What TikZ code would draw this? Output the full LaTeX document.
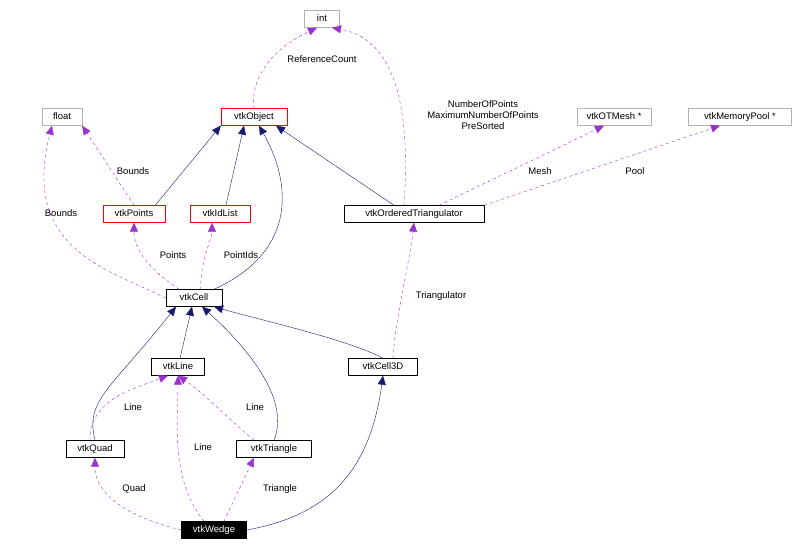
\documentclass[tikz,border=0pt]{standalone}
\usepackage{fontspec}
\setmainfont{Liberation Sans}
\usetikzlibrary{arrows.meta}
\definecolor{inh}{RGB}{25,25,112}
\definecolor{use}{RGB}{154,50,205}
\begin{document}
\begin{tikzpicture}[x=1pt,y=-1pt,
  cls/.style={draw=black,fill=white,font=\fontsize{9.5}{10}\selectfont,inner sep=2pt,minimum height=17pt,text height=7pt,text depth=1.5pt},
  red/.style={cls,draw=red},
  gray/.style={cls,draw=gray!60},
  inhe/.style={draw=inh,-{Triangle[length=9pt,width=8pt]}},
  usee/.style={draw=use,dashed,-{Triangle[length=9pt,width=8pt]}},
  lbl/.style={font=\fontsize{9.5}{11}\selectfont,align=center,inner sep=1pt}]
\useasboundingbox (0,0) rectangle (798,554);
\node[gray,minimum width=35pt] (int) at (322,19) {int};
\node[red,minimum width=66pt] (obj) at (254,117) {vtkObject};
\node[gray,minimum width=40pt] (float) at (62,117) {float};
\node[gray,minimum width=74pt] (mesh) at (614,117) {vtkOTMesh *};
\node[gray,minimum width=103pt] (pool) at (740,117) {vtkMemoryPool *};
\node[red,minimum width=62pt] (pts) at (134,214) {vtkPoints};
\node[red,minimum width=60pt] (ids) at (220,214) {vtkIdList};
\node[cls,minimum width=140pt] (ot) at (414,214) {vtkOrderedTriangulator};
\node[cls,minimum width=56pt] (cell) at (194,298) {vtkCell};
\node[cls,minimum width=53pt] (line) at (178,367) {vtkLine};
\node[cls,minimum width=69pt] (c3d) at (383,367) {vtkCell3D};
\node[cls,minimum width=58pt] (quad) at (95,449) {vtkQuad};
\node[cls,minimum width=75pt] (tri) at (274,449) {vtkTriangle};
\node[cls,fill=black,text=white,minimum width=65pt] (wedge) at (214,530) {vtkWedge};
% inheritance
\draw[inhe] (pts.north east) ++(-10,0) -- (obj.south west);
\draw[inhe] (ids.north) ++(6,0) -- ([xshift=-10pt]obj.south);
\draw[inhe] ([xshift=20pt]cell.north) .. controls (300,250) and (290,180) .. ([xshift=5pt]obj.south);
\draw[inhe] ([xshift=-20pt]ot.north) -- ([xshift=22pt]obj.south);
\draw[inhe] (line) -- (cell);
\draw[inhe] (quad.north) .. controls (85,400) and (110,390) .. ([xshift=-18pt]cell.south);
\draw[inhe] (tri.north) .. controls (290,400) and (250,350) .. ([xshift=8pt]cell.south);
\draw[inhe] (c3d.north) .. controls (350,340) and (260,320) .. ([xshift=20pt]cell.south);
\draw[inhe] (wedge.east) .. controls (330,515) and (370,470) .. (c3d.south);
% usage
\draw[usee] (obj.north) .. controls (250,80) and (270,50) .. ([xshift=-5pt]int.south);
\node[lbl] at (322,59) {ReferenceCount};
\draw[usee] ([xshift=-10pt]ot.north) .. controls (410,120) and (400,40) .. ([xshift=10pt]int.south);
\node[lbl] at (483,115) {NumberOfPoints\\MaximumNumberOfPoints\\PreSorted};
\draw[usee] (pts.north) -- (float.south east);
\node[lbl] at (133,171) {Bounds};
\draw[usee] (cell.west) .. controls (110,270) and (20,250) .. ([xshift=-10pt]float.south);
\node[lbl] at (61,213) {Bounds};
\draw[usee] ([xshift=25pt]ot.north) -- ([xshift=-10pt]mesh.south);
\node[lbl] at (540,171) {Mesh};
\draw[usee] (ot.north east) -- ([xshift=-20pt]pool.south);
\node[lbl] at (635,171) {Pool};
\draw[usee] ([xshift=-15pt]cell.north) .. controls (150,270) and (134,250) .. (pts.south);
\node[lbl] at (173,255) {Points};
\draw[usee] ([xshift=5pt]cell.north west) ++(30,0) .. controls (200,260) and (212,240) .. ([xshift=-8pt]ids.south);
\node[lbl] at (241,255) {PointIds};
\draw[usee] (c3d.north) ++(10,0) .. controls (395,320) and (410,260) .. (ot.south);
\node[lbl] at (441,296) {Triangulator};
\draw[usee] (quad.north) ++(-5,0) .. controls (90,400) and (130,390) .. ([xshift=-10pt]line.south);
\node[lbl] at (133,407) {Line};
\draw[usee] (tri.north) ++(-20,0) .. controls (230,420) and (200,390) .. (line.south);
\node[lbl] at (255,407) {Line};
\draw[usee] ([xshift=-10pt]wedge.north) .. controls (170,480) and (178,420) .. ([xshift=-0pt]line.south);
\node[lbl] at (203,447) {Line};
\draw[usee] (wedge.west) .. controls (140,520) and (95,500) .. (quad.south);
\node[lbl] at (134,489) {Quad};
\draw[usee] ([xshift=10pt]wedge.north) -- ([xshift=-20pt]tri.south);
\node[lbl] at (280,489) {Triangle};
\end{tikzpicture}
\end{document}
